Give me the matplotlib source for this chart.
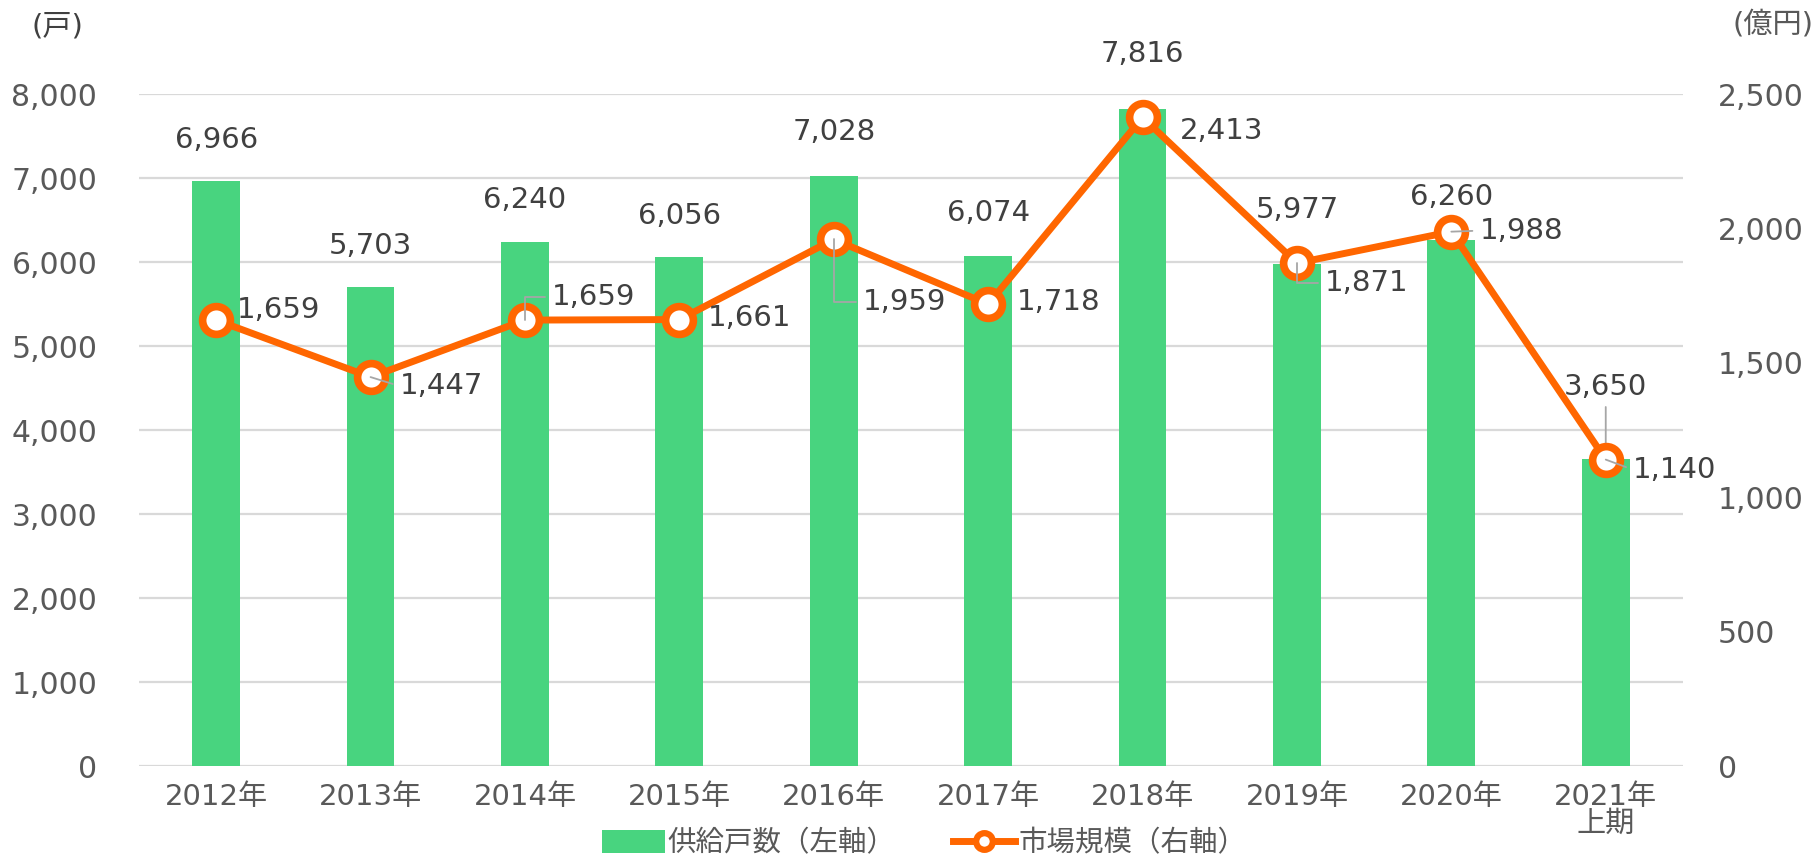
import matplotlib
matplotlib.use("Agg")
import matplotlib.pyplot as plt
import numpy as np
from matplotlib.patches import Patch
from matplotlib.lines import Line2D

plt.rcParams['font.family'] = ['DejaVu Sans', 'Noto Sans CJK JP']

categories = ['2012年', '2013年', '2014年', '2015年', '2016年', '2017年',
              '2018年', '2019年', '2020年', '2021年\n上期']
units = [6966, 5703, 6240, 6056, 7028, 6074, 7816, 5977, 6260, 3650]
market = [1659, 1447, 1659, 1661, 1959, 1718, 2413, 1871, 1988, 1140]
left_ticks = [0, 1000, 2000, 3000, 4000, 5000, 6000, 7000, 8000]
right_ticks = [0, 500, 1000, 1500, 2000, 2500]

GREEN = '#48D47F'
ORANGE = '#FF6600'
TICK_C = '#595959'
LABEL_C = '#404040'
GRID_C = '#D9D9D9'
LEAD_C = '#A6A6A6'

fig = plt.figure(figsize=(18.19, 8.58), dpi=100)
ax = fig.add_axes([0.0764, 0.1072, 0.8488, 0.7832])
ax2 = ax.twinx()

x = np.arange(len(categories))
ax.bar(x, units, width=0.31, color=GREEN, zorder=2)
ax.set_xlim(-0.5, len(categories) - 0.5)
ax.set_ylim(0, 8000)
ax.set_yticks(left_ticks)
ax.set_yticklabels([f'{v:,}' for v in left_ticks])
ax.yaxis.grid(True, color=GRID_C, lw=1.6, zorder=0)
ax.set_axisbelow(True)
ax.set_xticks(x)
ax.set_xticklabels(categories, linespacing=0.95)
for s in ax.spines.values():
    s.set_visible(False)
for s in ax2.spines.values():
    s.set_visible(False)
ax.tick_params(axis='y', length=0, pad=30, labelsize=21.5, labelcolor=TICK_C)
ax.tick_params(axis='x', length=0, pad=12, labelsize=21, labelcolor=TICK_C)

ax2.plot(x, market, color=ORANGE, lw=5, marker='o', ms=20,
         mfc='white', mec=ORANGE, mew=5.5, zorder=3)
ax2.set_ylim(0, 2500)
ax2.set_yticks(right_ticks)
ax2.set_yticklabels([f'{v:,}' for v in right_ticks])
ax2.tick_params(axis='y', length=0, pad=25, labelsize=21.5, labelcolor=TICK_C)

# bar value labels: pixel offset above the bar top
bar_off = [41, 41, 42, 41, 44, 43, 55, 54, 43, 72]
for i, (v, d) in enumerate(zip(units, bar_off)):
    kw = {}
    if i == 9:
        kw['arrowprops'] = dict(arrowstyle='-', color=LEAD_C, lw=1.3,
                                shrinkA=2, shrinkB=0, relpos=(0.5, 0))
    ax.annotate(f'{v:,}', xy=(i, v), xytext=(0, d), textcoords='offset pixels',
                ha='center', va='center', fontsize=21, color=LABEL_C,
                zorder=6, annotation_clip=False, **kw)

# line value labels: pixel offset from the marker, some with leader lines
line_off = [(21, 10), (29, -9), (27, 23), (28, 2), (29, -63),
            (29, 2), (37, -14), (28, -20), (28, 1), (27, -10)]
leaders = [False, True, True, False, True, False, False, True, True, True]
for i, (v, (dx, dy), lead) in enumerate(zip(market, line_off, leaders)):
    kw = {}
    if lead:
        cs = 'angle,angleA=0,angleB=90,rad=0' if abs(dy) > 15 else 'arc3'
        kw['arrowprops'] = dict(arrowstyle='-', color=LEAD_C, lw=1.3,
                                shrinkA=3, shrinkB=0, relpos=(0, 0.5),
                                connectionstyle=cs)
    ax2.annotate(f'{v:,}', xy=(i, v), xytext=(dx, dy), textcoords='offset pixels',
                 ha='left', va='center', fontsize=21, color=LABEL_C,
                 zorder=6, annotation_clip=False, **kw)

fig.text(57 / 1819, 1 - 27 / 858, '(戸)', ha='center', va='center',
         fontsize=21, color='#404040')
fig.text(1773 / 1819, 1 - 25 / 858, '(億円)', ha='center', va='center',
         fontsize=21, color=TICK_C)

handles = [Patch(facecolor=GREEN, edgecolor='none'),
           Line2D([0], [0], color=ORANGE, lw=5, marker='o', ms=12,
                  mfc='white', mec=ORANGE, mew=4.5)]
leg = fig.legend(handles, ['供給戸数（左軸）', '市場規模（右軸）'],
                 loc='center', bbox_to_anchor=(0.508, 0.017), ncol=2,
                 frameon=False, fontsize=20.5, handlelength=2.2,
                 handleheight=0.9, handletextpad=0.1, columnspacing=2.0)
for t in leg.get_texts():
    t.set_color(TICK_C)

fig.savefig('out.png', dpi=100)
